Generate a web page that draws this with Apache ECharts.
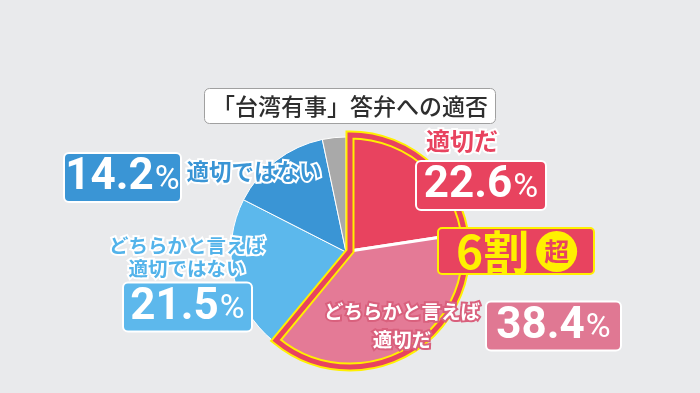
<!DOCTYPE html>
<html>
<head>
<meta charset="utf-8">
<script src="https://cdn.jsdelivr.net/npm/echarts@6/dist/echarts.min.js"></script>
<style>
html,body{margin:0;padding:0;background:#e9eaec;}
#c{width:700px;height:393px;}
</style>
</head>
<body>
<div id="c"></div>
<script>
// ---- data ----
const titleText = '「台湾有事」答弁への適否';
const categories = ['適切だ', 'どちらかと言えば\n適切だ', 'どちらかと言えば\n適切ではない', '適切ではない', 'その他'];
const values = [22.6, 38.4, 21.5, 14.2, 3.3];
const highlightIdx = [0, 1];          // slices grouped & exploded ("6割超")
const badgeMain = '6割';
const badgeMark = '超';

// ---- styles / layout (kept separate from data) ----
const FONT = '"Noto Sans CJK JP", "Noto Sans", sans-serif';
const NUMFONT = 'Roboto, "Noto Sans CJK JP", sans-serif';
const colors = ['#e8435f', '#e47a96', '#5cb8ec', '#3a95d5', '#a9a9a9'];
const boxColors = ['#e8435f', '#e07893', '#5db8ec', '#3a95d5', '#a9a9a9'];
const YELLOW = '#fff000';
const mainCenter = [346, 252], mainR = 115;
const expCenter = [350, 251], expR = 116;
const valuePos = [[481, 185.5], [553.5, 326], [187.5, 307], [122.5, 177.5], [0, 0]];
const valueBoxW = [132, 137, 131, 119, 50];
const namePos = [[462, 141], [402, 326], [187, 257], [254, 171], [0, 0]];
const nameSize = [24, 19.5, 19.5, 22.5, 12];
const nameLH = [28, 28, 23, 26, 14];
const nameFill = ['#e8435f', '#ffffff', '#53b3ea', '#3a95d5', '#000'];
const nameStroke = ['#ffffff', '#d9607d', '#ffffff', '#ffffff', '#fff'];

const T = 'rgba(0,0,0,0)';
const isHi = i => highlightIdx.indexOf(i) >= 0;

const mainData = categories.map((n, i) => ({
  name: n, value: values[i],
  itemStyle: isHi(i) ? {color: T, borderWidth: 0} : {color: colors[i], borderColor: '#fff', borderWidth: 1}
}));
const expData = categories.map((n, i) => ({
  name: n, value: values[i],
  itemStyle: isHi(i) ? {color: colors[i], borderColor: '#fff', borderWidth: 3} : {color: T, borderWidth: 0}
}));
const hiSum = highlightIdx.reduce((s, i) => s + values[i], 0);
const restSum = values.reduce((s, v) => s + v, 0) - hiSum;
function outlineData(col, w) {
  return [
    {name: 'hi', value: hiSum, itemStyle: {color: T, borderColor: col, borderWidth: w, borderJoin: 'miter', borderMiterLimit: 10}},
    {name: 'rest', value: restSum, itemStyle: {color: T, borderWidth: 0}}
  ];
}
const nameData = categories.map((n, i) => ({
  name: n, value: values[i], itemStyle: {color: T, borderWidth: 0},
  label: {show: i < 4, formatter: n, fontSize: nameSize[i], lineHeight: nameLH[i], fontWeight: 'bold',
    fontFamily: FONT, color: nameFill[i], textBorderColor: nameStroke[i], textBorderWidth: 4, align: 'center'}
}));
const valueData = categories.map((n, i) => ({
  name: n, value: values[i], itemStyle: {color: T, borderWidth: 0},
  label: {show: i < 4, formatter: '{n|' + values[i].toFixed(1) + '}{p|%}',
    backgroundColor: boxColors[i], borderColor: '#fff', borderWidth: 2, borderRadius: 4,
    width: valueBoxW[i] - 4, padding: [1, 0, 0, 0]}
}));

const basePie = {type: 'pie', silent: true, animation: false, startAngle: 90, clockwise: true,
  avoidLabelOverlap: false, label: {show: false}, labelLine: {show: false}, emphasis: {disabled: true}};

const chart = echarts.init(document.getElementById('c'), null, {renderer: 'canvas'});
chart.setOption({
  backgroundColor: '#e9eaec',
  animation: false,
  title: [
    {text: titleText, left: 'center', top: 88,
     backgroundColor: '#ffffff', borderColor: '#a0a0a0', borderWidth: 1, borderRadius: 5,
     padding: [4, 8, 3, 8],
     textStyle: {fontSize: 23, fontWeight: 500, color: '#2e2e2e', fontFamily: FONT, lineHeight: 29}},
    {text: '{a|' + badgeMain + '}{g| }{b|' + badgeMark + '}', left: 438, top: 223,
     backgroundColor: '#e8435f', borderColor: YELLOW, borderWidth: 2, borderRadius: 4,
     padding: [1, 17, 0, 18],
     textStyle: {rich: {
       a: {fontSize: 46, fontWeight: 'bold', color: YELLOW, fontFamily: FONT, lineHeight: 55},
       g: {fontSize: 6, width: 7},
       b: {fontSize: 25, fontWeight: 'bold', color: '#e8435f', fontFamily: FONT, backgroundColor: YELLOW,
           borderRadius: 21, padding: [8, 8, 8, 8], lineHeight: 25}
     }}}
  ],
  series: [
    Object.assign({}, basePie, {center: mainCenter, radius: mainR, data: mainData}),
    Object.assign({}, basePie, {center: expCenter, radius: expR, data: expData}),
    Object.assign({}, basePie, {center: expCenter, radius: expR, data: outlineData(YELLOW, 9)}),
    Object.assign({}, basePie, {center: expCenter, radius: expR, data: outlineData('#e8435f', 5)}),
    Object.assign({}, basePie, {center: mainCenter, radius: mainR, data: nameData,
      label: {show: true, position: 'inside'},
      labelLayout: p => ({x: namePos[p.dataIndex][0], y: namePos[p.dataIndex][1], align: 'center', verticalAlign: 'middle'})}),
    Object.assign({}, basePie, {center: mainCenter, radius: mainR, data: valueData,
      label: {show: true, position: 'inside', color: '#fff', rich: {
        n: {fontSize: 44, fontWeight: 'bold', color: '#fff', fontFamily: NUMFONT, lineHeight: 46, align: 'center'},
        p: {fontSize: 34, fontWeight: 'normal', color: '#fff', fontFamily: NUMFONT, lineHeight: 46, align: 'center', padding: [4, 0, 0, 1]}
      }},
      labelLayout: p => ({x: valuePos[p.dataIndex][0], y: valuePos[p.dataIndex][1], align: 'center', verticalAlign: 'middle'})})
  ]
});
</script>
</body>
</html>
